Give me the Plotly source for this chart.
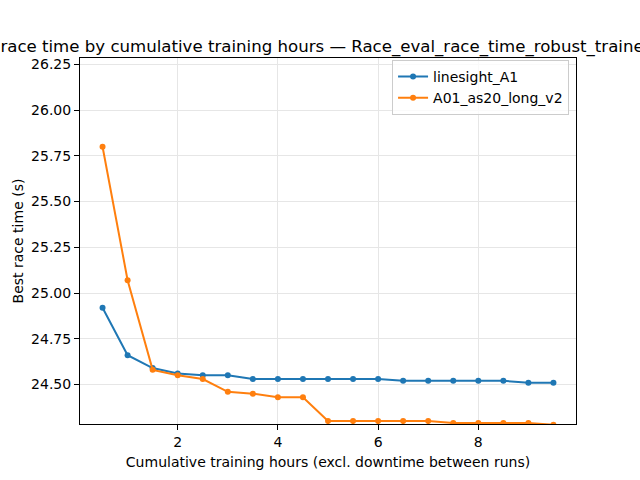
import plotly.graph_objects as go

# heures cumulées d'entraînement
hours = [0.5, 1.0, 1.5, 2.0, 2.5, 3.0, 3.5, 4.0, 4.5, 5.0,
         5.5, 6.0, 6.5, 7.0, 7.5, 8.0, 8.5, 9.0, 9.5]

# meilleur temps de course (s) par run
linesight_a1 = [24.92, 24.66, 24.59, 24.56, 24.55, 24.55, 24.53, 24.53, 24.53, 24.53,
                24.53, 24.53, 24.52, 24.52, 24.52, 24.52, 24.52, 24.51, 24.51]
a01_as20 = [25.80, 25.07, 24.58, 24.55, 24.53, 24.46, 24.45, 24.43, 24.43, 24.30,
            24.30, 24.30, 24.30, 24.30, 24.29, 24.29, 24.29, 24.29, 24.28]

series = [("linesight_A1", linesight_a1, "#1f77b4"),
          ("A01_as20_long_v2", a01_as20, "#ff7f0e")]

titre = "Best race time by cumulative training hours — Race_eval_race_time_robust_trained_only"

fig = go.Figure()
for nom, valeurs, couleur in series:
    fig.add_trace(go.Scatter(x=hours, y=valeurs, name=nom, mode="lines+markers",
                             line=dict(color=couleur, width=2),
                             marker=dict(color=couleur, size=6)))

axe = dict(showline=True, linecolor="black", linewidth=1, mirror=True,
           ticks="outside", ticklen=5, tickcolor="black",
           showgrid=True, gridcolor="#e6e6e6", gridwidth=1, zeroline=False,
           tickfont=dict(size=14, color="black"))

fig.update_layout(
    width=640, height=480,
    margin=dict(l=80, r=64, t=58, b=53),
    paper_bgcolor="white", plot_bgcolor="white",
    font=dict(family="DejaVu Sans", color="black"),
    title=dict(text=titre, x=0.5, xref="paper", xanchor="center",
               y=1 - 46 / 480, yanchor="middle", font=dict(size=16.6)),
    xaxis=dict(axe, range=[0.05, 9.95], dtick=2, tick0=0,
               title=dict(text="Cumulative training hours (excl. downtime between runs)",
                          font=dict(size=14), standoff=8)),
    yaxis=dict(axe, range=[24.284, 26.285], dtick=0.25, tick0=24.5, tickformat=".2f",
               title=dict(text="Best race time (s)", font=dict(size=14), standoff=4)),
    legend=dict(x=0.986, y=0.995, xanchor="right", yanchor="top", itemwidth=30,
                bgcolor="rgba(255,255,255,0.8)", bordercolor="#cccccc", borderwidth=1,
                font=dict(size=14)),
)

# pas de marge du body pour que la figure commence à (0, 0)
fig.write_html("out.html", config={"displayModeBar": False},
               post_script="document.body.style.margin='0';")
